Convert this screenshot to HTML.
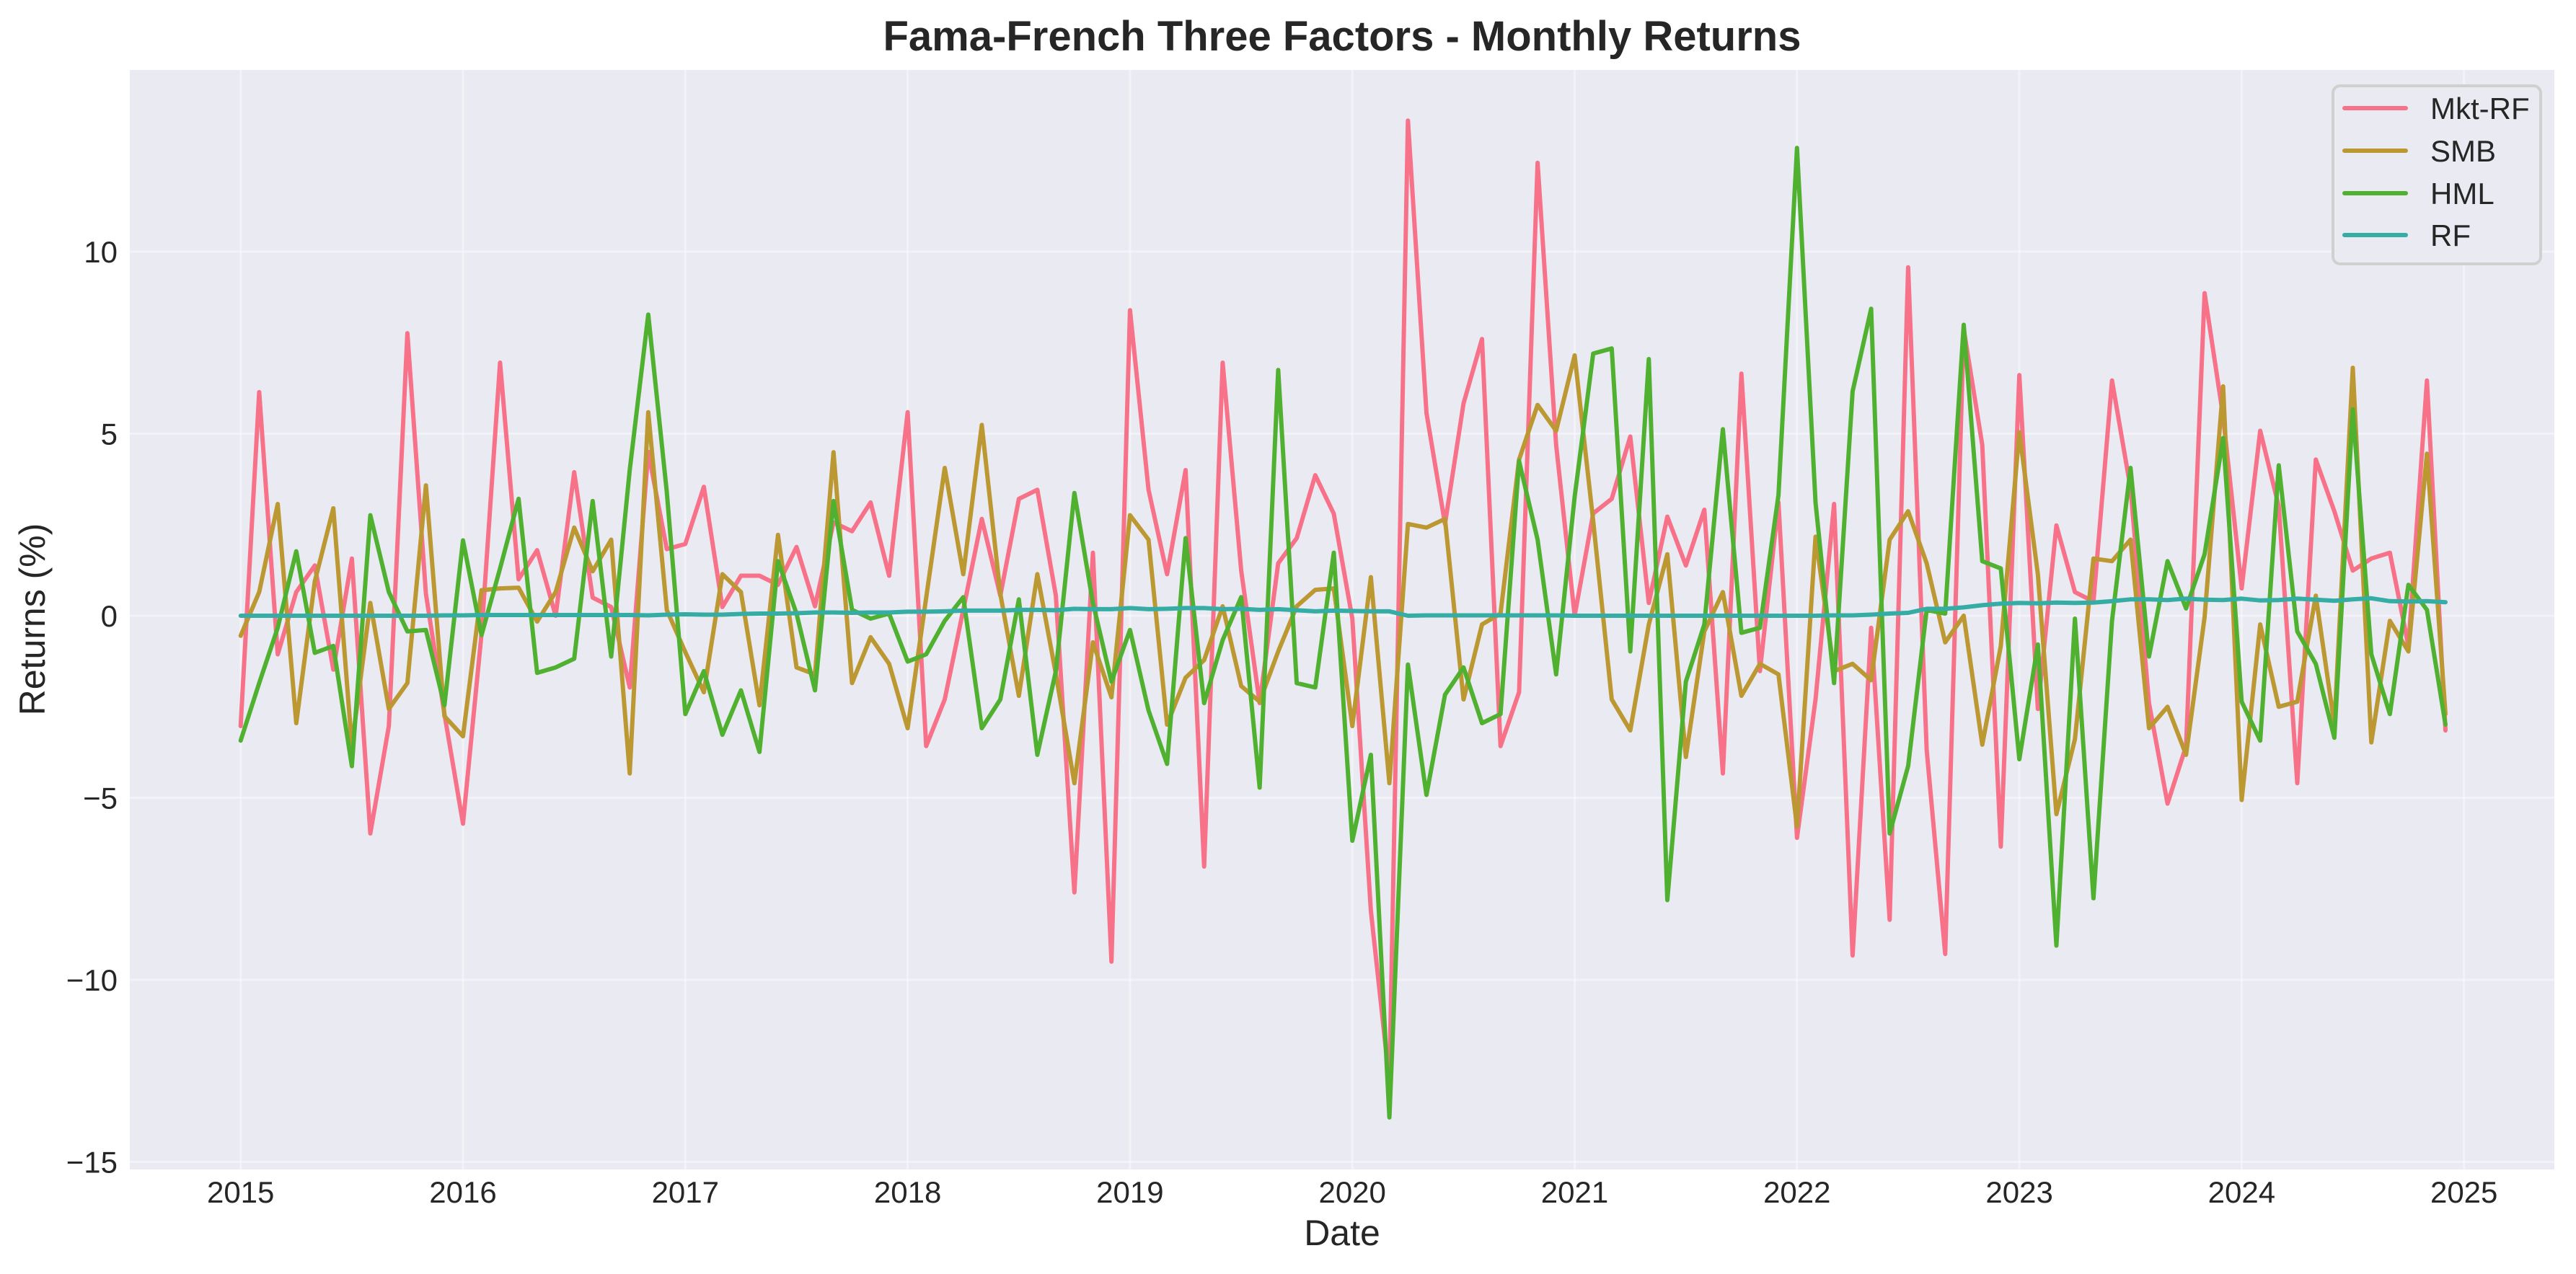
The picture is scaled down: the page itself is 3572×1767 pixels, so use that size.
<!DOCTYPE html>
<html><head><meta charset="utf-8">
<style>
html,body{margin:0;padding:0;background:#fff;}
svg{display:block;font-family:"Liberation Sans",Arial,sans-serif;}
</style></head>
<body>
<svg id="chart" width="3572" height="1767" viewBox="0 0 3572 1767" xmlns="http://www.w3.org/2000/svg">
  <defs><clipPath id="plotclip"><rect x="180" y="97" width="3362" height="1525"/></clipPath></defs>
  <rect x="180" y="97" width="3362" height="1525" fill="#eaeaf2"/>
  <g id="grid"></g>
  <g id="series" clip-path="url(#plotclip)"></g>
  <g id="ticks"></g>
  <text x="1861" y="70" text-anchor="middle" font-size="58" font-weight="bold" fill="#262626">Fama-French Three Factors - Monthly Returns</text>
  <text x="1861" y="1727" text-anchor="middle" font-size="50" fill="#262626">Date</text>
  <text transform="translate(62,859) rotate(-90)" text-anchor="middle" font-size="50" fill="#262626">Returns (%)</text>
  <g>
    <rect x="3235" y="119" width="288" height="247" rx="10" fill="#eaeaf2" stroke="#d0d0d0" stroke-width="4"/>
    <g><line x1="3251" y1="150" x2="3336" y2="150" stroke="#f77189" stroke-width="6" stroke-linecap="round"/><text x="3370" y="165" font-size="42" fill="#262626">Mkt-RF</text></g>
    <g><line x1="3251" y1="209" x2="3336" y2="209" stroke="#bb9832" stroke-width="6" stroke-linecap="round"/><text x="3370" y="224" font-size="42" fill="#262626">SMB</text></g>
    <g><line x1="3251" y1="268" x2="3336" y2="268" stroke="#50b131" stroke-width="6" stroke-linecap="round"/><text x="3370" y="283" font-size="42" fill="#262626">HML</text></g>
    <g><line x1="3251" y1="326" x2="3336" y2="326" stroke="#36ada4" stroke-width="6" stroke-linecap="round"/><text x="3370" y="341" font-size="42" fill="#262626">RF</text></g>
  </g>
</svg>
<script>
const xTickYears = [2015,2016,2017,2018,2019,2020,2021,2022,2023,2024,2025];
const yTicks = [-15,-10,-5,0,5,10];
const startYear = 2015;
const mktRF = [-3.03,6.14,-1.06,0.65,1.38,-1.48,1.57,-5.98,-3.03,7.76,0.6,-2.7,-5.71,-0.5,6.95,1.0,1.8,0.0,3.94,0.5,0.24,-1.97,4.5,1.83,1.97,3.54,0.24,1.1,1.1,0.85,
1.89,0.26,2.56,2.32,3.11,1.1,5.59,-3.58,-2.3,0.16,2.66,0.55,3.21,3.46,0.55,-7.6,1.73,-9.5,8.39,3.46,1.14,4.0,-6.89,6.95,1.24,-2.4,1.44,2.13,3.86,2.8,
-0.08,-8.1,-12.8,13.6,5.57,2.52,5.83,7.6,-3.58,-2.1,12.44,4.69,0.0,2.81,3.21,4.92,0.35,2.72,1.38,2.91,-4.33,6.65,-1.52,3.11,-6.1,-2.3,3.07,-9.33,-0.33,-8.35,
9.57,-3.68,-9.29,7.87,4.69,-6.34,6.61,-2.56,2.48,0.65,0.39,6.46,3.5,-2.4,-5.16,-3.58,8.86,5.47,0.75,5.08,3.01,-4.6,4.29,2.87,1.24,1.57,1.73,-0.83,6.46,-3.15];
const smb = [-0.55,0.65,3.07,-2.95,0.94,2.95,-3.58,0.35,-2.56,-1.85,3.58,-2.76,-3.31,0.7,0.75,0.77,-0.16,0.65,2.42,1.22,2.09,-4.33,5.59,0.16,-1.0,-2.1,1.14,0.65,-2.46,2.22,
-1.42,-1.61,4.49,-1.85,-0.59,-1.32,-3.09,0.5,4.06,1.14,5.24,0.6,-2.2,1.14,-1.6,-4.6,-0.73,-2.24,2.76,2.09,-2.99,-1.7,-1.22,0.26,-1.93,-2.36,-0.98,0.26,0.71,0.75,
-3.03,1.06,-4.6,2.52,2.42,2.66,-2.3,-0.24,0.06,4.29,5.79,5.08,7.15,2.6,-2.3,-3.15,-0.24,1.69,-3.88,-0.43,0.65,-2.2,-1.32,-1.61,-5.79,2.17,-1.52,-1.32,-1.77,2.09,
2.87,1.44,-0.73,0.0,-3.54,-0.83,5.04,1.14,-5.45,-3.39,1.57,1.5,2.09,-3.09,-2.5,-3.82,-0.04,6.3,-5.06,-0.24,-2.5,-2.36,0.55,-2.99,6.81,-3.48,-0.14,-0.98,4.45,-2.7];
const hml = [-3.43,-1.85,-0.33,1.77,-1.02,-0.83,-4.13,2.76,0.65,-0.43,-0.39,-2.46,2.07,-0.53,1.3,3.21,-1.57,-1.42,-1.18,3.15,-1.12,4.0,8.27,3.4,-2.7,-1.52,-3.27,-2.05,-3.74,1.5,
0.06,-2.05,3.15,0.16,-0.08,0.06,-1.26,-1.06,-0.14,0.51,-3.09,-2.3,0.45,-3.82,-1.52,3.37,0.35,-1.81,-0.39,-2.6,-4.07,2.13,-2.4,-0.67,0.51,-4.72,6.75,-1.85,-1.97,1.73,
-6.18,-3.82,-13.78,-1.34,-4.92,-2.17,-1.42,-2.95,-2.7,4.25,2.09,-1.61,3.27,7.2,7.34,-0.98,7.05,-7.81,-1.81,-0.24,5.12,-0.47,-0.33,3.31,12.85,3.11,-1.85,6.16,8.43,-5.98,
-4.13,0.16,0.06,7.99,1.5,1.3,-3.94,-0.79,-9.06,-0.08,-7.76,-0.14,4.06,-1.12,1.5,0.2,1.69,4.88,-2.36,-3.43,4.13,-0.43,-1.32,-3.35,5.67,-1.06,-2.7,0.85,0.16,-2.99];
const rf = [0,0,0,0,0,0,0,0,0,0,0,0.01, 0.01,0.02,0.02,0.02,0.02,0.02,0.02,0.02,0.02,0.02,0.01,0.03,
0.04,0.03,0.03,0.05,0.06,0.06,0.07,0.09,0.09,0.08,0.09,0.09, 0.11,0.11,0.12,0.14,0.14,0.14,0.16,0.16,0.15,0.19,0.18,0.18,
0.21,0.18,0.19,0.21,0.21,0.18,0.19,0.16,0.18,0.15,0.12,0.14, 0.13,0.12,0.12,0.0,0.01,0.01,0.01,0.01,0.01,0.01,0.01,0.01,
0,0,0,0,0,0,0,0,0,0,0,0, 0,0,0.01,0.01,0.03,0.06,0.08,0.19,0.19,0.23,0.29,0.33,
0.35,0.34,0.36,0.35,0.36,0.4,0.45,0.45,0.43,0.47,0.44,0.43, 0.47,0.42,0.43,0.47,0.44,0.41,0.45,0.48,0.40,0.39,0.40,0.37];

const NS = "http://www.w3.org/2000/svg";
const PL = 180, PR = 3542, PT = 97, PB = 1622;
function xScale(yearFrac){ return 333.7 + (yearFrac - 2015) * 308.3; }
function yScale(v){ return 854 - 50.5 * v; }
function monthX(i){ return xScale(startYear + i / 12); }

const grid = document.getElementById('grid');
const ticks = document.getElementById('ticks');
const series = document.getElementById('series');

xTickYears.forEach(yr => {
  const x = xScale(yr);
  const l = document.createElementNS(NS, 'line');
  
  
  l.setAttribute('x1', x); l.setAttribute('x2', x);
  l.setAttribute('y1', PT); l.setAttribute('y2', PB);
  l.setAttribute('stroke', '#ffffff'); l.setAttribute('stroke-opacity', '0.4'); l.setAttribute('stroke-width', '3');
  grid.appendChild(l);
  const t = document.createElementNS(NS, 'text');
  
  
  t.setAttribute('x', x); t.setAttribute('y', 1668);
  t.setAttribute('text-anchor', 'middle'); t.setAttribute('font-size', '42'); t.setAttribute('fill', '#262626');
  t.textContent = String(yr);
  ticks.appendChild(t);
});
yTicks.forEach(v => {
  const y = yScale(v);
  const l = document.createElementNS(NS, 'line');
  
  
  l.setAttribute('x1', PL); l.setAttribute('x2', PR);
  l.setAttribute('y1', y); l.setAttribute('y2', y);
  l.setAttribute('stroke', '#ffffff'); l.setAttribute('stroke-opacity', '0.4'); l.setAttribute('stroke-width', '3');
  grid.appendChild(l);
  const t = document.createElementNS(NS, 'text');
  
  
  t.setAttribute('x', 163); t.setAttribute('y', y + 15);
  t.setAttribute('text-anchor', 'end'); t.setAttribute('font-size', '42'); t.setAttribute('fill', '#262626');
  t.textContent = v < 0 ? '\u2212' + Math.abs(v) : String(v);
  ticks.appendChild(t);
});

function drawSeries(vals, color, name){
  const p = document.createElementNS(NS, 'path');
  
  
  let d = '';
  vals.forEach((v, i) => { d += (i ? 'L' : 'M') + monthX(i).toFixed(1) + ',' + yScale(v).toFixed(1); });
  p.setAttribute('d', d);
  p.setAttribute('fill', 'none'); p.setAttribute('stroke', color);
  p.setAttribute('stroke-width', '6'); p.setAttribute('stroke-linejoin', 'round'); p.setAttribute('stroke-linecap', 'round');
  series.appendChild(p);
}
drawSeries(mktRF, '#f77189', 'mkt-rf-line');
drawSeries(smb, '#bb9832', 'smb-line');
drawSeries(hml, '#50b131', 'hml-line');
drawSeries(rf, '#36ada4', 'rf-line');
</script>
</body></html>
